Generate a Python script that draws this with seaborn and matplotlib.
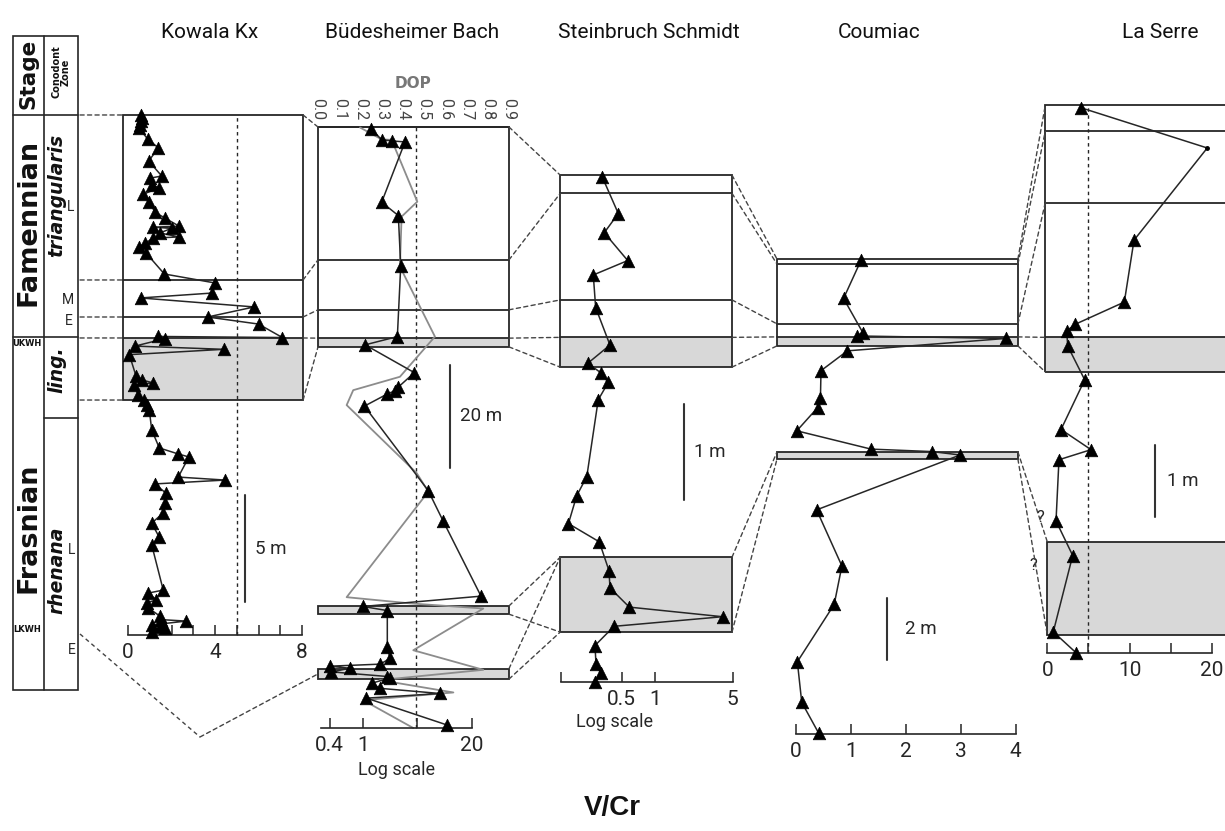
import numpy as np
import matplotlib
matplotlib.use("Agg")
import matplotlib.pyplot as plt
import seaborn as sns
from matplotlib.patches import Rectangle, ConnectionPatch
from matplotlib.transforms import blended_transform_factory
from matplotlib.ticker import NullLocator

# ---------------- data (V/Cr and DOP vs. height in m) ----------------
kow_vcr = [0.6, 0.65, 0.6, 0.55, 0.5, 0.9, 1.4, 0.95, 1.55, 1.03, 1.12, 1.44, 0.7, 0.98, 1.24,
           1.7, 2.36, 1.16, 2.0, 1.47, 2.34, 1.16, 0.78, 0.52, 0.83, 1.67, 4.0, 3.88, 0.58, 5.8,
           3.66, 6.0, 7.1, 1.4, 1.7, 0.32, 4.4, 0.06, 0.37, 0.63, 1.16, 0.28, 0.47, 0.72, 0.86,
           0.98, 1.09, 1.44, 2.31, 2.8, 2.31, 4.46, 1.24, 1.73, 1.7, 1.62, 1.09, 1.43, 1.09, 1.62,
           0.94, 1.3, 0.86, 0.94, 1.47, 1.5, 2.67, 1.09, 1.47, 1.7, 1.09]
kow_h = [24.3, 24.15, 24.0, 23.85, 23.7, 23.18, 22.76, 22.15, 21.45, 21.35, 21.03, 20.89, 20.6,
         20.23, 19.76, 19.48, 19.1, 19.06, 19.0, 18.79, 18.6, 18.55, 18.3, 18.13, 17.85, 16.87,
         16.45, 15.98, 15.75, 15.33, 14.86, 14.53, 13.9, 13.95, 13.85, 13.5, 13.35, 13.1, 12.1,
         11.92, 11.78, 11.68, 11.2, 10.98, 10.75, 10.51, 9.58, 8.74, 8.46, 8.32, 7.38, 7.24, 7.06,
         6.64, 6.17, 5.7, 5.23, 4.58, 4.21, 2.1, 1.96, 1.64, 1.5, 1.26, 0.88, 0.72, 0.65, 0.47,
         0.37, 0.33, 0.14]

bud_vcr = [1.25, 1.67, 2.2, 3.17, 1.67, 2.64, 2.82, 2.57, 1.06, 4.1, 2.64, 2.41, 1.92, 1.04, 6.0,
           9.1, 25.6, 1.0, 1.95, 1.95, 2.1, 1.6, 0.40, 0.70, 0.42, 1.95, 2.1, 1.27, 1.6, 8.3, 1.1,
           10.0]
bud_h = [116.4, 114.2, 114.0, 113.8, 102.1, 99.5, 89.7, 76.0, 74.4, 69.0, 66.2, 65.5, 64.8, 62.5,
         46.1, 40.1, 25.6, 23.6, 22.8, 15.7, 13.5, 12.4, 12.0, 11.6, 10.9, 10.0, 9.7, 8.7, 7.7,
         6.7, 5.8, 0.6]
bud_dop = [0.198, 0.30, 0.347, 0.468, 0.394, 0.386, 0.551, 0.386, 0.166, 0.135, 0.465, 0.52,
           0.135, 0.434, 0.779, 0.449, 0.779, 0.292, 0.638, 0.213, 0.449]
bud_dop_h = [116.6, 114.3, 114.2, 102.2, 99.3, 89.6, 76.0, 68.2, 65.6, 62.7, 49.5, 45.9, 25.4,
             24.2, 23.2, 15.1, 11.3, 9.3, 6.9, 5.4, 0.0]

ss_vcr = [0.335, 0.467, 0.349, 0.568, 0.278, 0.292, 0.393, 0.248, 0.326, 0.379, 0.308, 0.243,
          0.197, 0.166, 0.315, 0.385, 0.393, 0.587, 4.07, 0.427, 0.288, 0.294, 0.324, 0.288]
ss_h = [5.26, 4.88, 4.68, 4.39, 4.24, 3.90, 3.51, 3.32, 3.22, 3.12, 2.94, 2.14, 1.94, 1.65, 1.46,
        1.16, 0.98, 0.78, 0.68, 0.58, 0.38, 0.19, 0.09, 0.0]

cou_vcr = [1.19, 0.87, 1.22, 1.11, 3.82, 0.94, 0.46, 0.45, 0.40, 0.02, 1.37, 2.48, 2.99, 0.38,
           0.84, 0.70, 0.03, 0.11, 0.42]
cou_h = [15.29, 14.05, 12.95, 12.84, 12.76, 12.36, 11.72, 10.85, 10.53, 9.78, 9.19, 9.11, 9.0,
         7.23, 5.42, 4.18, 2.33, 1.02, 0.02]

ls_vcr = [4.06, 19.46, 10.55, 9.37, 3.37, 2.36, 2.48, 4.55, 1.67, 5.32, 1.42, 1.06, 3.09, 0.73,
          3.49]
ls_h = [7.57, 7.01, 5.73, 4.87, 4.56, 4.47, 4.26, 3.79, 3.10, 2.82, 2.68, 1.83, 1.35, 0.29, 0.0]

# zone levels: box top, two boundaries, shaded (UKWH) top, shaded bottom
kow_zone = [24.3, 16.59, 14.86, 13.88, 10.98]
bud_zone = [116.7, 90.9, 81.2, 75.7, 74.0]
ss_zone = [5.28, 5.09, 3.98, 3.59, 3.28]
cou_zone = [15.32, 15.16, 13.23, 12.81, 12.52]
ls_zone = [7.6, 7.24, 6.25, 4.38, 3.9]
# LKWH horizons (bottom, top)
bud_bands = [(22.1, 23.7), (9.5, 11.5)]
ss_lkwh = (0.52, 1.30)
cou_lkwh = (8.87, 9.10)
ls_lkwh = (0.25, 1.54)

titles = ["Kowala Kx", "Büdesheimer Bach", "Steinbruch Schmidt", "Coumiac", "La Serre"]
dop_ticks = [0.0, 0.1, 0.2, 0.3, 0.4, 0.5, 0.6, 0.7, 0.8, 0.9]
vcr_threshold = 5.0
dop_threshold = 0.46

# ---------------- figure ----------------
sns.set_theme(style="white")
plt.rcParams["font.family"] = ["Roboto", "DejaVu Sans"]

W, H = 1225, 831
fig = plt.figure(figsize=(W / 100, H / 100), dpi=100)
fig.patch.set_facecolor("white")
ov = fig.add_axes([0, 0, 1, 1])
ov.set_xlim(0, W)
ov.set_ylim(H, 0)
ov.axis("off")

INK = "#262626"
SHADE = "#d8d8d8"
DASH = (0, (3.0, 2.4))
BOLDF = ["DejaVu Sans"]


def make_panel(x0, x1, base, ppm, kind, anchor, scale):
    ax = fig.add_axes([x0 / W, 0, (x1 - x0) / W, 1])
    ax.patch.set_alpha(0)
    ax.set_ylim((base - H) / ppm, base / ppm)
    if kind == "log":
        ax.set_xscale("log")
        ax.set_xlim(10 ** ((x0 - anchor) / scale), 10 ** ((x1 - anchor) / scale))
    else:
        ax.set_xlim((x0 - anchor) / scale, (x1 - anchor) / scale)
    for s in ("top", "left", "right"):
        ax.spines[s].set_visible(False)
    ax.spines["bottom"].set_position(("data", 0))
    ax.spines["bottom"].set_color(INK)
    ax.spines["bottom"].set_linewidth(1.2)
    ax.set_yticks([])
    ax.grid(False)
    return ax


def style_ticks(ax, ticks, labels, bounds):
    ax.set_xticks(ticks)
    ax.set_xticklabels(labels)
    ax.xaxis.set_minor_locator(NullLocator())
    ax.spines["bottom"].set_bounds(*bounds)
    ax.tick_params(axis="x", which="both", direction="in", length=7, width=1.1, color=INK,
                   labelsize=15, labelcolor=INK, pad=6, bottom=True, top=False)
    ax.set_xlabel("")
    ax.set_ylabel("")


def draw_series(ax, x, y, dot_only=()):
    sns.lineplot(x=x, y=y, ax=ax, sort=False, estimator=None, color=INK, lw=1.1,
                 zorder=3, clip_on=False)
    mx = [v for i, v in enumerate(x) if i not in dot_only]
    my = [v for i, v in enumerate(y) if i not in dot_only]
    sns.scatterplot(x=mx, y=my, ax=ax, marker="^", s=82, color="black", edgecolor="black",
                    linewidth=0.5, zorder=4, clip_on=False)
    for i in dot_only:
        ax.plot(x[i], y[i], "o", ms=2.5, color="black", zorder=4, clip_on=False)
    ax.set_xlabel("")
    ax.set_ylabel("")


def draw_box(ax, xl, xr, zone, transform=None):
    tr = transform if transform is not None else ax.transData
    top, l1, l2, stop, sbot = zone
    ax.add_patch(Rectangle((xl, sbot), xr - xl, stop - sbot, facecolor=SHADE, edgecolor="none",
                           zorder=1, clip_on=False, transform=tr))
    ax.add_patch(Rectangle((xl, sbot), xr - xl, top - sbot, fill=False, edgecolor=INK, lw=1.3,
                           zorder=2, clip_on=False, transform=tr))
    for h in (l1, l2, stop):
        ax.plot([xl, xr], [h, h], color=INK, lw=1.3, zorder=2, clip_on=False, transform=tr)


def draw_band(ax, xl, xr, band, transform=None):
    tr = transform if transform is not None else ax.transData
    ax.add_patch(Rectangle((xl, band[0]), xr - xl, band[1] - band[0], facecolor=SHADE,
                           edgecolor=INK, lw=1.3, zorder=1, clip_on=False, transform=tr))


def scale_bar(ax, x, h0, length, label, off):
    ax.plot([x, x], [h0, h0 + length], color="#333333", lw=1.5, clip_on=False, zorder=3)
    ax.annotate(label, xy=(x, h0 + length / 2), xytext=(off, 0), textcoords="offset points",
                ha="left", va="center", fontsize=13.5, color=INK)


def link(trA, xa, ha, trB, xb, hb):
    con = ConnectionPatch(xyA=(xa, ha), coordsA=trA, xyB=(xb, hb), coordsB=trB,
                          color="#444444", lw=1.0, linestyle=DASH, zorder=5)
    fig.add_artist(con)


# ---- Kowala Kx ----
axk = make_panel(100, 312, 635, 21.4, "lin", 128, 21.75)
KX = (-0.23, 8.05)
draw_box(axk, KX[0], KX[1], kow_zone)
axk.plot([vcr_threshold] * 2, [0, kow_zone[0]], ls=(0, (2.5, 2.5)), color=INK, lw=1.0, zorder=2)
draw_series(axk, kow_vcr, kow_h)
style_ticks(axk, list(range(9)), ["0", "", "", "", "4", "", "", "", "8"], (0, 8))
scale_bar(axk, 5.38, 1.54, 5, "5 m", 7)

# ---- Büdesheimer Bach ----
axb = make_panel(305, 515, 728, 5.15, "log", 363, 83.8)
axd = axb.twiny()
axd.set_xlim((305 - 318) / 212.2, (515 - 318) / 212.2)
axd.set_zorder(axb.get_zorder() - 1)
axd.patch.set_alpha(0)
for s in ("bottom", "left", "right"):
    axd.spines[s].set_visible(False)
axd.spines["top"].set_position(("data", bud_zone[0]))
axd.spines["top"].set_bounds(0, 0.9)
axd.spines["top"].set_color(INK)
BX = (0.0, 0.9)
draw_box(axd, BX[0], BX[1], bud_zone)
for band in bud_bands:
    draw_band(axd, BX[0], BX[1], band)
axd.plot([dop_threshold] * 2, [0, bud_zone[0]], ls=(0, (2.5, 2.5)), color=INK, lw=1.0, zorder=2)
sns.lineplot(x=bud_dop, y=bud_dop_h, ax=axd, sort=False, estimator=None, color="#8c8c8c",
             lw=1.3, zorder=3)
axd.set_xlabel("")
axd.set_ylabel("")
axd.set_xticks(dop_ticks)
axd.set_xticklabels([f"{t:.1f}" for t in dop_ticks])
axd.xaxis.set_ticks_position("top")
axd.tick_params(axis="x", which="both", length=0, labelsize=11.5, labelcolor="#444444",
                labelrotation=-90, pad=5)
axd.set_yticks([])
draw_series(axb, bud_vcr, bud_h)
style_ticks(axb, [0.4, 1, 4.4, 20], ["0.4", "1", "", "20"], (0.315, 20))
scale_bar(axb, 10.9, 50.5, 20, "20 m", 7)

# ---- Steinbruch Schmidt ----
axs = make_panel(545, 750, 682, 96, "log", 655, 111)
SX = (0.14, 4.94)
draw_box(axs, SX[0], SX[1], ss_zone)
draw_band(axs, SX[0], SX[1], ss_lkwh)
draw_series(axs, ss_vcr, ss_h)
style_ticks(axs, [0.141, 0.5, 1, 5], ["", "0.5", "1", "5"], (0.141, 5))
scale_bar(axs, 1.82, 1.9, 1, "1 m", 7)

# ---- Coumiac ----
axc = make_panel(765, 1030, 734, 31, "lin", 795.7, 55)
CX = (-0.34, 4.04)
draw_box(axc, CX[0], CX[1], cou_zone)
draw_band(axc, CX[0], CX[1], cou_lkwh)
draw_series(axc, cou_vcr, cou_h)
style_ticks(axc, [0, 1, 2, 3, 4], ["0", "1", "2", "3", "4"], (0, 4))
scale_bar(axc, 1.66, 2.39, 2, "2 m", 13)

# ---- La Serre ----
axl = make_panel(1035, 1225, 652.7, 72, "lin", 1047.3, 8.22)
LX = (-0.25, 26)
draw_box(axl, LX[0], LX[1], ls_zone)
draw_band(axl, 0.0, LX[1], ls_lkwh)
axl.plot([vcr_threshold] * 2, [0, ls_zone[0]], ls=(0, (2.5, 2.5)), color=INK, lw=1.0, zorder=2)
draw_series(axl, ls_vcr, ls_h, dot_only=(1,))
style_ticks(axl, [0, 5, 10, 15, 20], ["0", "", "10", "", "20"], (0, 20))
scale_bar(axl, 13.1, 1.88, 1, "1 m", 9)

# ---- correlation lines ----
colk = blended_transform_factory(ov.transData, axk.transData)
for h in kow_zone:
    link(colk, 80, h, axk.transData, KX[0], h)
for a, b in zip(kow_zone, bud_zone):
    link(axk.transData, KX[1], a, axd.transData, BX[0], b)
for a, b in zip(bud_zone, ss_zone):
    link(axd.transData, BX[1], a, axs.transData, SX[0], b)
for band in bud_bands:
    link(axd.transData, BX[1], band[1], axs.transData, SX[0], ss_lkwh[1])
    link(axd.transData, BX[1], band[0], axs.transData, SX[0], ss_lkwh[0])
for a, b in zip(ss_zone, cou_zone):
    link(axs.transData, SX[1], a, axc.transData, CX[0], b)
link(axs.transData, SX[1], ss_lkwh[1], axc.transData, CX[0], cou_lkwh[1])
link(axs.transData, SX[1], ss_lkwh[0], axc.transData, CX[0], cou_lkwh[0])
for a, b in zip(cou_zone, ls_zone):
    link(axc.transData, CX[1], a, axl.transData, LX[0], b)
link(axc.transData, CX[1], cou_lkwh[1], axl.transData, 0.0, ls_lkwh[1])
link(axc.transData, CX[1], cou_lkwh[0], axl.transData, 0.0, ls_lkwh[0])
# LKWH line from the column to the lower Büdesheimer horizon
ov.plot([80, 200], [634, 737], color="#444444", lw=1.0, ls=DASH)
link(ov.transData, 200, 737, axd.transData, BX[0], sum(bud_bands[1]) / 2)

# ---- stratigraphic column ----
ov.add_patch(Rectangle((13, 36), 65, 654, fill=False, edgecolor=INK, lw=1.2))
ov.plot([44, 44], [36, 690], color=INK, lw=1.2)
ov.plot([13, 78], [115, 115], color=INK, lw=1.2)
ov.plot([13, 78], [337, 337], color=INK, lw=1.2)
ov.plot([44, 78], [418, 418], color=INK, lw=1.2)
ov.text(29, 74, "Stage", rotation=90, ha="center", va="center", fontsize=15.5,
        fontweight="bold", family=BOLDF, color="#111111")
ov.text(61, 72, "Conodont\nZone", rotation=90, ha="center", va="center", fontsize=7,
        fontweight="bold", family=BOLDF, color="#111111", linespacing=1.0)
ov.text(29, 222, "Famennian", rotation=90, ha="center", va="center", fontsize=19.5,
        fontweight="bold", family=BOLDF, color="#111111")
ov.text(29, 528, "Frasnian", rotation=90, ha="center", va="center", fontsize=19.5,
        fontweight="bold", family=BOLDF, color="#111111")
ov.text(27, 344, "UKWH", ha="center", va="center", fontsize=6, fontweight="bold",
        family=BOLDF, color="#111111")
ov.text(27, 630, "LKWH", ha="center", va="center", fontsize=6, fontweight="bold",
        family=BOLDF, color="#111111")
for txt, yy in (("triangularis", 195), ("ling.", 370), ("rhenana", 570)):
    ov.text(57, yy, txt, rotation=90, ha="center", va="center", fontsize=13.5,
            fontweight="bold", fontstyle="italic", family=BOLDF, color="#111111")
for txt, xx, yy in (("L", 71, 207), ("M", 68, 300), ("E", 69, 321), ("L", 72, 550),
                    ("E", 72, 650)):
    ov.text(xx, yy, txt, ha="center", va="center", fontsize=10, color=INK)

# ---- texts ----
for t, xx in zip(titles, [210, 412, 649, 879, 1160]):
    ov.text(xx, 32, t, ha="center", va="center", fontsize=15, color="#111111")
ov.text(413, 84, "DOP", ha="center", va="center", fontsize=11, fontweight="bold",
        color="#777777", family=BOLDF)
ov.text(396, 770, "Log scale", ha="center", va="center", fontsize=13, color=INK)
ov.text(614, 722, "Log scale", ha="center", va="center", fontsize=13, color=INK)
ov.text(1040, 517, "?", ha="center", va="center", fontsize=12, color=INK)
ov.text(1033, 565, "?", ha="center", va="center", fontsize=12, color=INK)
ov.text(612, 808, "V/Cr", ha="center", va="center", fontsize=20, fontweight="bold",
        family=["Liberation Sans", "DejaVu Sans"], color="#111111")

fig.savefig("out.png", dpi=100, facecolor="white")
